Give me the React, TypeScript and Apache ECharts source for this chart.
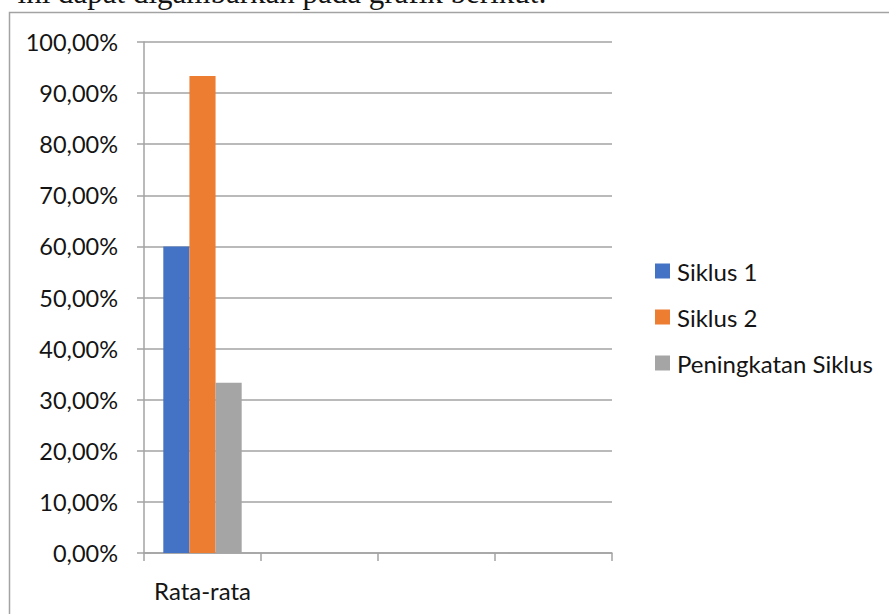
import React, { useEffect, useRef } from "react";
import * as echarts from "echarts";

const categories = ["Rata-rata", "", "", ""];
const siklus1 = [60, "-", "-", "-"];
const siklus2 = [93.33, "-", "-", "-"];
const peningkatan = [33.33, "-", "-", "-"];
const seriesNames = ["Siklus 1", "Siklus 2", "Peningkatan Siklus"];
const colors = ["#4472C4", "#ED7D31", "#A5A5A5"];
const captionText = "ini dapat digambarkan pada grafik berikut:";

const FONT = "Lato, 'Open Sans', sans-serif";
const LINE = "#a3a3a3";
const TEXT = "#141414";

export default function App() {
  const ref = useRef<HTMLDivElement>(null);

  useEffect(() => {
    if (!ref.current) return;
    const chart = echarts.init(ref.current, undefined, { renderer: "svg" });
    chart.setOption({
      animation: false,
      backgroundColor: "#ffffff",
      color: colors,
      textStyle: { fontFamily: FONT },
      graphic: [
        {
          type: "rect",
          shape: { x: 9.5, y: 12.5, width: 1000, height: 800 },
          style: { fill: "none", stroke: LINE, lineWidth: 1.5 },
          silent: true,
        },
        {
          type: "text",
          x: 547,
          y: -8,
          style: {
            text: captionText,
            font: "31px 'Liberation Serif', serif",
            fill: TEXT,
            align: "right",
            verticalAlign: "middle",
          },
          silent: true,
        },
      ],
      grid: { left: 144, right: 277, top: 42, bottom: 61, containLabel: false },
      legend: {
        orient: "vertical",
        left: 650,
        top: 254,
        itemWidth: 15,
        itemHeight: 15,
        itemGap: 22,
        icon: "rect",
        data: seriesNames,
        textStyle: { fontFamily: FONT, fontSize: 24, color: TEXT, padding: [0, 0, 0, 2] },
      },
      xAxis: {
        type: "category",
        data: categories,
        boundaryGap: true,
        axisLine: { show: true, lineStyle: { color: LINE, width: 1.5 } },
        axisTick: { show: true, interval: 0, length: 8, lineStyle: { color: LINE, width: 1.5 } },
        axisLabel: { interval: 0, fontFamily: FONT, fontSize: 24, color: TEXT, margin: 25 },
        splitLine: { show: false },
      },
      yAxis: {
        type: "value",
        min: 0,
        max: 100,
        interval: 10,
        axisLine: { show: true, lineStyle: { color: LINE, width: 1.5 } },
        axisTick: { show: true, length: 7, lineStyle: { color: LINE, width: 1.5 } },
        axisLabel: {
          fontFamily: FONT,
          fontSize: 23.5,
          color: TEXT,
          margin: 26,
          formatter: (v: number) => v.toFixed(2).replace(".", ",") + "%",
        },
        splitLine: { show: true, lineStyle: { color: LINE, width: 1.5 } },
      },
      series: [
        { name: seriesNames[0], type: "bar", data: siklus1, barGap: "0%", barCategoryGap: "33%" },
        { name: seriesNames[1], type: "bar", data: siklus2, barGap: "0%", barCategoryGap: "33%" },
        { name: seriesNames[2], type: "bar", data: peningkatan, barGap: "0%", barCategoryGap: "33%" },
      ],
    });
    return () => chart.dispose();
  }, []);

  return (
    <div
      ref={ref}
      style={{ position: "fixed", left: 0, top: 0, width: 889, height: 614 }}
    />
  );
}
